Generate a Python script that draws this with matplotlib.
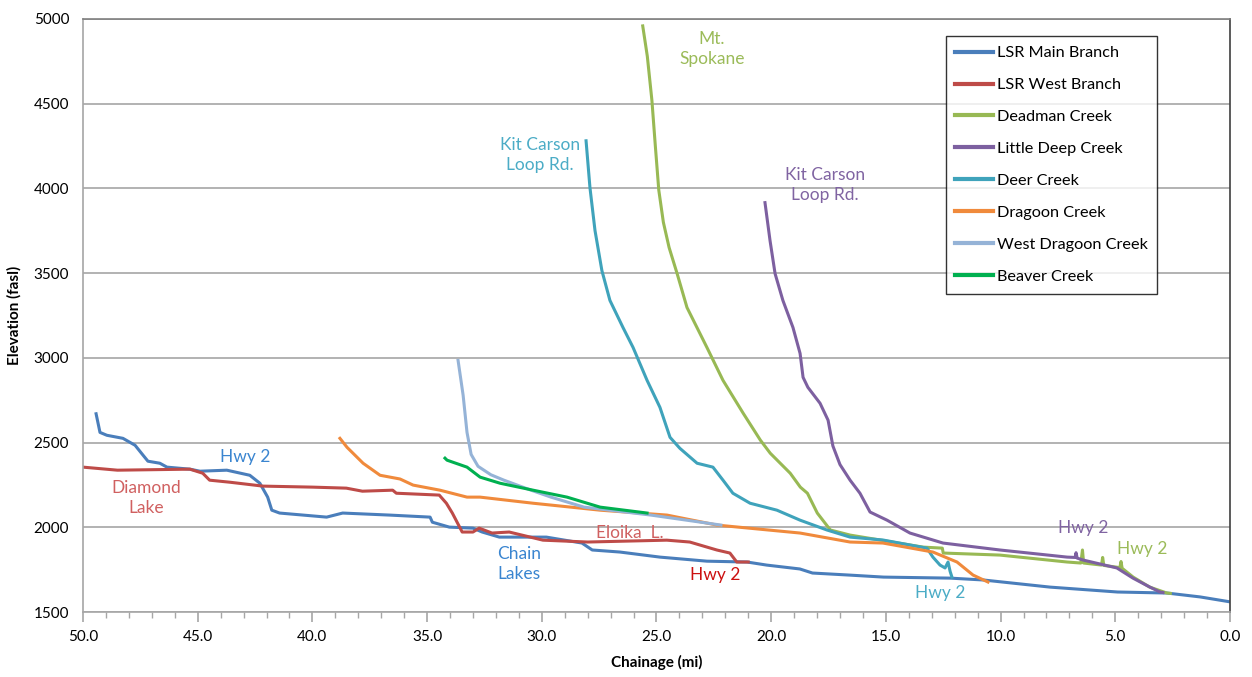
import matplotlib
matplotlib.use("Agg")
import matplotlib.pyplot as plt
from matplotlib.ticker import MultipleLocator, FormatStrFormatter

plt.rcParams['font.family'] = ['Lato', 'DejaVu Sans']

# chainage (mi) and elevation (fasl)
main_x = [49.43, 49.26, 48.96, 48.26, 47.73, 47.38, 47.17, 46.65, 46.34, 45.34, 44.9,
          43.73, 42.73, 42.29, 41.95, 41.77, 41.43, 39.38, 38.68, 36.63, 34.87, 34.77,
          34.03, 33.0, 32.6, 31.85, 29.8, 28.25, 27.8, 26.6, 24.85, 22.8, 21.05, 20.2,
          18.75, 18.2, 16.6, 15.1, 12.2, 10.75, 7.85, 4.9, 2.75, 1.3, 0.0]
main_y = [2670, 2560, 2543, 2525, 2484, 2425, 2390, 2378, 2355, 2343, 2331,
          2337, 2307, 2260, 2178, 2101, 2084, 2060, 2084, 2072, 2060, 2030,
          2001, 1995, 1972, 1942, 1942, 1907, 1866, 1854, 1824, 1800, 1795, 1777,
          1754, 1730, 1718, 1706, 1700, 1689, 1647, 1618, 1612, 1589, 1560]

west_x = [50.0, 48.5, 45.34, 44.78, 44.48, 43.6, 42.16, 40.0, 38.52, 37.82, 36.5, 36.34,
          34.47, 34.16, 33.9, 33.47, 33.0, 32.73, 32.17, 31.42, 29.95, 28.0, 24.55,
          23.55, 22.37, 21.8, 21.5, 21.0]
west_y = [2355, 2337, 2343, 2319, 2278, 2266, 2243, 2237, 2231, 2213, 2219, 2201,
          2190, 2142, 2084, 1972, 1972, 1995, 1966, 1972, 1924, 1913, 1924,
          1913, 1866, 1848, 1795, 1795]

deadman_x = [25.6, 25.4, 25.2, 25.05, 24.9, 24.7, 24.45, 24.1, 23.67, 22.8, 22.1, 21.22,
             20.47, 20.04, 19.17, 18.73, 18.42, 17.99, 17.42, 16.56, 13.38, 12.54, 12.5,
             10.03, 7.1, 6.5, 6.43, 6.38, 5.6, 5.55, 5.5, 4.8, 4.75, 4.7, 4.22, 3.5,
             2.75, 2.6]
deadman_y = [4959, 4780, 4520, 4250, 3990, 3800, 3651, 3497, 3297, 3061, 2867, 2673,
             2514, 2437, 2319, 2237, 2201, 2084, 1984, 1954, 1883, 1877, 1848,
             1836, 1795, 1789, 1866, 1789, 1777, 1822, 1775, 1762, 1798, 1758, 1706, 1647,
             1612, 1610]

deep_x = [20.27, 20.05, 19.83, 19.49, 19.05, 18.74, 18.61, 18.4, 17.87, 17.52, 17.31, 17.0,
          16.56, 16.13, 15.69, 14.95, 13.95, 12.51, 10.03, 7.1, 6.75, 6.71, 6.66, 6.41,
          4.93, 4.23, 3.49, 3.05, 2.92]
deep_y = [3916, 3692, 3497, 3339, 3179, 3026, 2885, 2826, 2732, 2632, 2480, 2370,
          2278, 2201, 2090, 2042, 1966, 1907, 1866, 1824, 1822, 1850, 1818, 1807,
          1760, 1700, 1647, 1618, 1615]

deer_x = [28.07, 27.9, 27.68, 27.38, 27.03, 26.46, 26.02, 25.41, 24.85, 24.41, 23.98, 23.23,
          22.54, 22.1, 21.67, 20.92, 19.75, 18.74, 17.57, 16.56, 15.13, 13.21, 12.95,
          12.64, 12.42, 12.29, 12.2, 12.12]
deer_y = [4281, 4004, 3751, 3515, 3339, 3179, 3061, 2867, 2708, 2531, 2466, 2378,
          2355, 2278, 2201, 2142, 2101, 2042, 1984, 1942, 1925, 1877, 1824,
          1777, 1760, 1795, 1740, 1706]

dragoon_x = [38.8, 38.49, 37.79, 37.05, 36.18, 35.61, 34.44, 33.26, 32.69, 30.38, 27.46,
             24.54, 22.36, 18.74, 16.56, 15.13, 12.95, 11.9, 11.2, 10.55]
dragoon_y = [2525, 2472, 2378, 2307, 2285, 2249, 2219, 2178, 2178, 2142, 2101,
             2072, 2013, 1966, 1913, 1907, 1854, 1795, 1718, 1677]

wdragoon_x = [33.65, 33.43, 33.26, 33.08, 32.78, 32.22, 31.65, 30.47, 29.6, 28.16, 25.24, 22.19]
wdragoon_y = [2985, 2780, 2560, 2430, 2360, 2310, 2278, 2219, 2178, 2119, 2072, 2013]

beaver_x = [34.22, 34.13, 33.26, 32.69, 31.82, 30.38, 28.9, 27.46, 25.41]
beaver_y = [2408, 2396, 2355, 2296, 2260, 2219, 2178, 2119, 2084]

series = [
    ("LSR Main Branch", main_x, main_y, "#4A7EBB"),
    ("LSR West Branch", west_x, west_y, "#BE4B48"),
    ("Deadman Creek", deadman_x, deadman_y, "#98B954"),
    ("Little Deep Creek", deep_x, deep_y, "#7D60A0"),
    ("Deer Creek", deer_x, deer_y, "#3FA3BB"),
    ("Dragoon Creek", dragoon_x, dragoon_y, "#F08A3C"),
    ("West Dragoon Creek", wdragoon_x, wdragoon_y, "#95B3D7"),
    ("Beaver Creek", beaver_x, beaver_y, "#00B050"),
]

# (text, x, y, colour)
notes = [
    ("Mt.\nSpokane", 22.58, 4823, "#9BBB59"),
    ("Kit Carson\nLoop Rd.", 30.08, 4197, "#4BACC6"),
    ("Kit Carson\nLoop Rd.", 17.65, 4020, "#8064A2"),
    ("Hwy 2", 42.94, 2415, "#3A85D0"),
    ("Diamond\nLake", 47.25, 2173, "#D06060"),
    ("Chain\nLakes", 31.0, 1783, "#3A85D0"),
    ("Eloika  L.", 26.15, 1966, "#D06060"),
    ("Hwy 2", 22.45, 1718, "#CC1010"),
    ("Hwy 2", 12.64, 1612, "#4BACC6"),
    ("Hwy 2", 6.41, 1996, "#8064A2"),
    ("Hwy 2", 3.84, 1872, "#9BBB59"),
]

fig = plt.figure(figsize=(12.52, 6.77), dpi=100)
ax = fig.add_axes([0.0663, 0.096, 0.9161, 0.876])

for name, xs, ys, col in series:
    ax.plot(xs, ys, color=col, lw=2.2, label=name, solid_joinstyle='round')

for txt, x, y, col in notes:
    ax.text(x, y, txt, color=col, fontsize=12.5, ha='center', va='center', linespacing=1.3)

ax.set_xlim(50, 0)
ax.set_ylim(1500, 5000)
ax.xaxis.set_major_locator(MultipleLocator(5))
ax.xaxis.set_minor_locator(MultipleLocator(1))
ax.xaxis.set_major_formatter(FormatStrFormatter('%.1f'))
ax.yaxis.set_major_locator(MultipleLocator(500))

ax.grid(axis='y', color='#A6A6A6', lw=1.2)
ax.set_axisbelow(True)
ax.tick_params(axis='x', which='major', length=7, width=1.2, color='#A6A6A6', labelsize=11, pad=6)
ax.tick_params(axis='x', which='minor', length=4, width=1, color='#A6A6A6')
ax.tick_params(axis='y', length=0, labelsize=11, pad=10)

ax.spines['left'].set_color('#A6A6A6')
ax.spines['bottom'].set_color('#A6A6A6')
ax.spines['top'].set_color('#808080')
ax.spines['right'].set_color('#404040')
for s in ax.spines.values():
    s.set_linewidth(1.2)

ax.set_xlabel("Chainage (mi)", fontsize=11, fontweight='bold', labelpad=8)
ax.set_ylabel("Elevation (fasl)", fontsize=11, fontweight='bold', labelpad=9)

leg = ax.legend(loc='upper left', bbox_to_anchor=(0.752, 0.971), fontsize=11.7,
                frameon=True, fancybox=False, edgecolor='black', labelspacing=1.08,
                handlelength=2.3, handletextpad=0.25, borderpad=0.6, borderaxespad=0)
leg.get_frame().set_linewidth(1.0)
for line in leg.get_lines():
    line.set_linewidth(3)

fig.savefig("out.png", dpi=100)
